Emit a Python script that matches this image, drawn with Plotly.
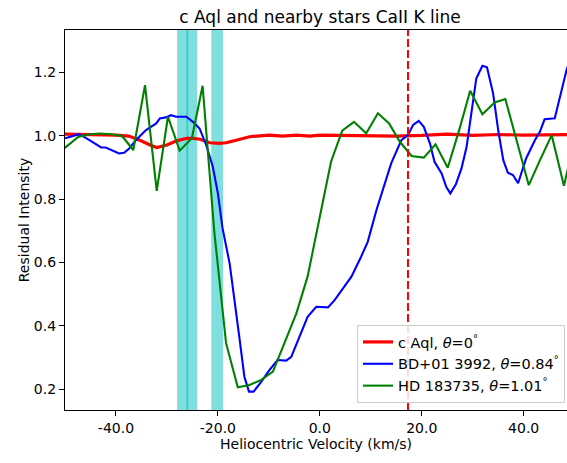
import plotly.graph_objects as go

# ---- data ----
red_x = [-50, -45, -40, -37.5, -35.3, -33.3, -32.0, -30.0, -28.1, -26.1, -24.8, -23.5, -21.6, -19.7,
         -18.4, -16.4, -13.8, -9.9, -7.3, -4.6, -2.0, 0, 5, 10, 15, 20, 25, 30, 35, 40, 45, 50]
red_y = [1.005, 1.004, 1.002, 0.999, 0.986, 0.971, 0.963, 0.971, 0.984, 0.992, 0.992, 0.989, 0.978, 0.976,
         0.978, 0.986, 0.997, 1.002, 0.999, 1.002, 0.999, 1.002, 1.001, 1.002, 0.999, 1.001, 1.005, 1.001,
         1.004, 1.002, 1.004, 1.004]

blue_x = [-50.0, -47.2, -45.2, -42.9, -42.0, -40.7, -39.4, -38.4, -37.4, -36.1, -34.1, -32.1, -31.4, -30.2,
          -29.2, -28.2, -26.2, -24.9, -23.6, -22.3, -21.0, -20.0, -19.1, -17.7, -16.8, -15.8, -14.8, -13.9,
          -13.0, -11.5, -9.9, -8.3, -6.6, -5.6, -4.0, -2.4, -0.7, 1.6, 2.9, 4.5, 6.2, 8.1, 9.4, 11.1, 12.7,
          14.0, 16.0, 17.3, 18.3, 19.4, 20.4, 21.6, 22.5, 23.9, 24.8, 25.6, 26.7, 27.8, 28.8, 29.7, 30.7,
          31.9, 32.8, 34.0, 35.0, 36.0, 36.9, 37.9, 38.9, 40.5, 42.2, 43.2, 44.1, 46.1, 48.4, 50.0]
blue_y = [0.992, 1.005, 0.986, 0.963, 0.963, 0.953, 0.944, 0.946, 0.960, 0.986, 1.018, 1.039, 1.055, 1.058,
          1.065, 1.060, 1.060, 1.044, 1.023, 0.971, 0.902, 0.818, 0.709, 0.597, 0.492, 0.365, 0.239, 0.192,
          0.192, 0.223, 0.260, 0.292, 0.290, 0.302, 0.365, 0.428, 0.460, 0.458, 0.481, 0.518, 0.555, 0.618,
          0.665, 0.765, 0.844, 0.913, 0.986, 1.002, 1.034, 1.047, 1.028, 0.976, 0.918, 0.881, 0.839, 0.818,
          0.847, 0.897, 0.965, 1.071, 1.181, 1.221, 1.216, 1.134, 1.018, 0.923, 0.883, 0.876, 0.850, 0.929,
          0.986, 1.013, 1.052, 1.055, 1.207, 1.280]

green_x = [-50.1, -47.4, -45.2, -43.1, -40.9, -38.8, -36.6, -34.3, -32.0, -29.8, -27.5, -25.1, -23.0, -20.7,
           -18.4, -16.1, -13.8, -11.5, -9.2, -6.9, -4.6, -2.4, 0.0, 2.2, 4.4, 6.7, 9.1, 11.4, 13.6, 15.7,
           18.0, 20.4, 22.7, 25.1, 27.4, 29.5, 31.9, 34.3, 36.4, 38.7, 41.0, 43.2, 45.5, 47.9, 50.0]
green_y = [0.961, 0.996, 1.005, 1.007, 1.005, 0.999, 0.955, 1.160, 0.826, 1.060, 0.953, 0.992, 1.158, 0.696,
           0.345, 0.206, 0.213, 0.229, 0.255, 0.344, 0.439, 0.555, 0.740, 0.918, 1.016, 1.044, 1.008, 1.071,
           1.039, 0.981, 0.936, 0.931, 0.973, 0.899, 1.021, 1.142, 1.068, 1.105, 1.116, 0.980, 0.844, 0.923,
           1.002, 0.842, 0.990]

names = ["c Aql, <i>θ</i>=0<sup>°</sup>",
         "BD+01 3992, <i>θ</i>=0.84<sup>°</sup>",
         "HD 183735, <i>θ</i>=1.01<sup>°</sup>"]

bands = [(-28.0, -24.1), (-21.3, -19.0)]
band_line = -26.0
vline_x = 17.3

x_ticks = [-40, -20, 0, 20, 40]
x_tick_labels = ["-40.0", "-20.0", "0.0", "20.0", "40.0"]
y_ticks = [0.2, 0.4, 0.6, 0.8, 1.0, 1.2]
y_tick_labels = ["0.2", "0.4", "0.6", "0.8", "1.0", "1.2"]

# ---- figure ----
fig = go.Figure()
fig.add_trace(go.Scatter(x=red_x, y=red_y, mode="lines", name=names[0],
                         line=dict(color="#ff0000", width=3.2)))
fig.add_trace(go.Scatter(x=blue_x, y=blue_y, mode="lines", name=names[1],
                         line=dict(color="#0000ff", width=2.1)))
fig.add_trace(go.Scatter(x=green_x, y=green_y, mode="lines", name=names[2],
                         line=dict(color="#008000", width=2.1)))

for a, b in bands:
    fig.add_shape(type="rect", xref="x", yref="paper", x0=a, x1=b, y0=0, y1=1,
                  fillcolor="rgba(0,191,191,0.5)", line=dict(width=0), layer="below")
fig.add_shape(type="line", xref="x", yref="paper", x0=band_line, x1=band_line, y0=0, y1=1,
              line=dict(color="rgba(0,191,191,0.55)", width=2), layer="below")
fig.add_shape(type="line", xref="x", yref="paper", x0=vline_x, x1=vline_x, y0=0, y1=1,
              line=dict(color="#ff0000", width=2, dash="8px,3px"))

font = "DejaVu Sans"
fig.update_layout(
    width=567, height=463,
    margin=dict(l=65, r=0, t=30, b=53, autoexpand=False),
    paper_bgcolor="white", plot_bgcolor="white",
    font=dict(family=font, size=14, color="black"),
    title=dict(text="c Aql and nearby stars CaII K line", x=320 / 567, xanchor="center",
               y=1 - 17 / 463, yanchor="middle", yref="container", xref="container",
               font=dict(family=font, size=17, color="black")),
    showlegend=True,
    legend=dict(x=(357 - 65) / 502, y=(410 - 325) / 380, xanchor="left", yanchor="top",
                bgcolor="rgba(255,255,255,0.85)", bordercolor="#cccccc", borderwidth=1,
                font=dict(family=font, size=14.5), tracegroupgap=0, itemwidth=30),
)
fig.update_xaxes(range=[-50, 48.5], tickvals=x_ticks, ticktext=x_tick_labels,
                 showgrid=False, zeroline=False, showline=True, linecolor="black", linewidth=1.2,
                 mirror=True, ticks="outside", ticklen=5, tickcolor="black",
                 title=dict(text="Heliocentric Velocity (km/s)", standoff=0,
                            font=dict(family=font, size=14)))
fig.update_yaxes(range=[0.134, 1.334], tickvals=y_ticks, ticktext=y_tick_labels,
                 showgrid=False, zeroline=False, showline=True, linecolor="black", linewidth=1.2,
                 mirror=False, ticks="outside", ticklen=5, tickcolor="black",
                 title=dict(text="Residual Intensity", standoff=0,
                            font=dict(family=font, size=14)))

fig.write_html("out.html")
